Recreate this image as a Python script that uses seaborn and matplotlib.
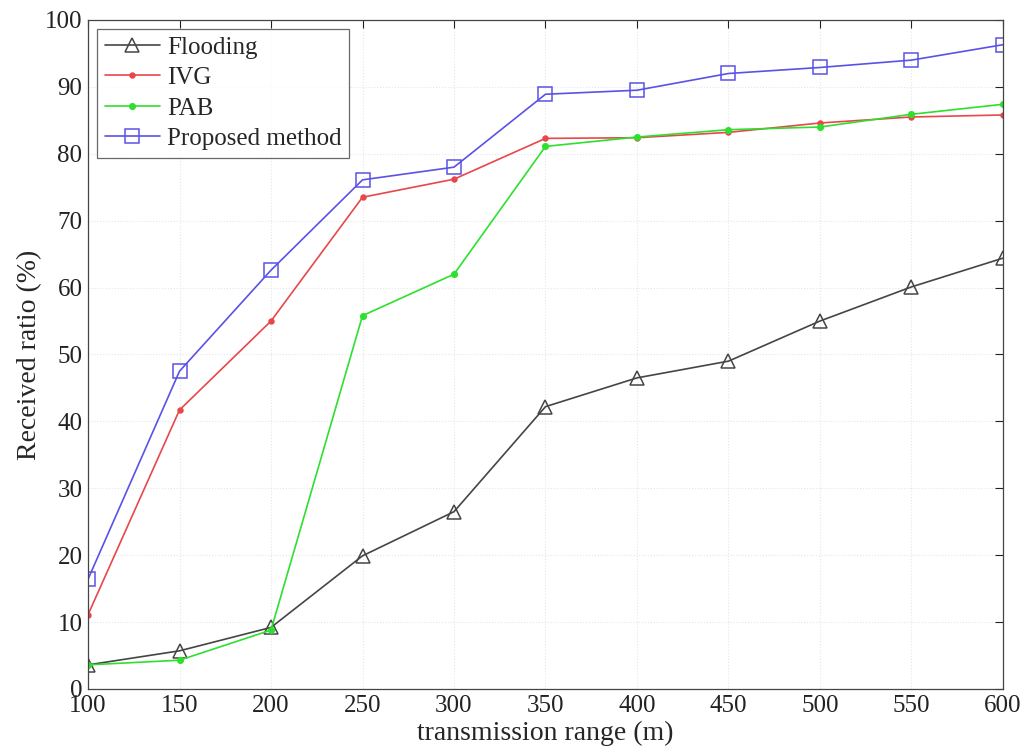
import numpy as np
import pandas as pd
import matplotlib
matplotlib.use("Agg")
import matplotlib.pyplot as plt
import seaborn as sns

ranges = [100, 150, 200, 250, 300, 350, 400, 450, 500, 550, 600]
flooding = [3.6, 5.7, 9.2, 19.9, 26.5, 42.2, 46.5, 49.0, 55.0, 60.1, 64.4]
ivg = [11.1, 41.7, 55.0, 73.5, 76.2, 82.3, 82.4, 83.2, 84.6, 85.5, 85.8]
pab = [3.6, 4.3, 8.8, 55.8, 62.0, 81.1, 82.5, 83.6, 84.0, 85.9, 87.4]
proposed = [16.4, 47.5, 62.6, 76.1, 78.0, 88.9, 89.5, 92.0, 92.9, 94.0, 96.3]
series_names = ["Flooding", "IVG", "PAB", "Proposed method"]
x_ticks = [100, 150, 200, 250, 300, 350, 400, 450, 500, 550, 600]
y_ticks = [0, 10, 20, 30, 40, 50, 60, 70, 80, 90, 100]

sns.set_style("white")
plt.rcParams["font.family"] = ["Liberation Serif", "DejaVu Serif"]

df = pd.DataFrame({
    "range": ranges * 4,
    "ratio": flooding + ivg + pab + proposed,
    "method": sum([[n] * len(ranges) for n in series_names], []),
})

palette = {"Flooding": "#454545", "IVG": "#e8474a", "PAB": "#2ee02e", "Proposed method": "#5a52e6"}
markers = {"Flooding": "^", "IVG": "o", "PAB": "o", "Proposed method": "s"}
msize = {"Flooding": 10, "IVG": 3.5, "PAB": 4, "Proposed method": 10}

fig = plt.figure(figsize=(10.27, 7.51), dpi=100)
ax = fig.add_axes([0.0857, 0.0826, 0.8909, 0.8908])

for name in series_names:
    sub = df[df["method"] == name]
    hollow = name in ("Flooding", "Proposed method")
    sns.lineplot(data=sub, x="range", y="ratio", ax=ax, color=palette[name],
                 marker=markers[name], markersize=msize[name], linewidth=1.2,
                 markerfacecolor="none" if hollow else palette[name],
                 markeredgecolor=palette[name], markeredgewidth=1.1,
                 label=name, legend=False)

ax.set_xlim(100, 600)
ax.set_ylim(0, 100)
ax.set_xticks(x_ticks)
ax.set_yticks(y_ticks)
ax.grid(True, linestyle=":", color="#e6e6e6", linewidth=0.8)
ax.tick_params(direction="in", length=6, width=0.8, top=True, right=True,
               labelsize=18, colors="#222222", pad=4)
for s in ax.spines.values():
    s.set_color("#444444")
    s.set_linewidth(0.9)
ax.set_xlabel("transmission range (m)", fontsize=20, labelpad=3)
ax.set_ylabel("Received ratio (%)", fontsize=20, labelpad=2)

leg = ax.legend(loc="upper left", bbox_to_anchor=(0.01, 0.987), fontsize=18,
                frameon=True, fancybox=False, edgecolor="#444444",
                handlelength=2.2, handletextpad=0.3, borderpad=0.3,
                labelspacing=0.32, borderaxespad=0)
leg.get_frame().set_linewidth(0.9)

fig.savefig("out.png", dpi=100)
